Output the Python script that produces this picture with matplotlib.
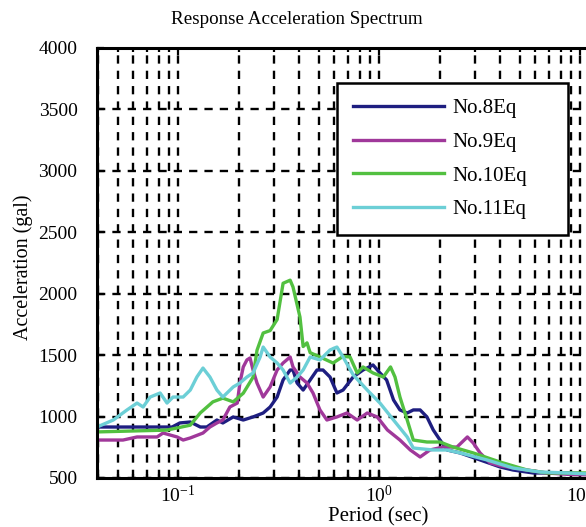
import matplotlib
matplotlib.use("Agg")
import matplotlib.pyplot as plt
from matplotlib.ticker import LogLocator, NullFormatter, MultipleLocator

plt.rcParams['font.family'] = ['Liberation Serif', 'DejaVu Serif']
plt.rcParams['mathtext.fontset'] = 'stix'

# Values: period (sec) and acceleration (gal)
t8 = [0.0395, 0.0449, 0.0934, 0.102, 0.115, 0.129, 0.139, 0.156, 0.167, 0.188, 0.211,
      0.236, 0.265, 0.287, 0.311, 0.333, 0.361, 0.373, 0.391, 0.419, 0.454, 0.491, 0.526,
      0.570, 0.617, 0.662, 0.743, 0.832, 0.933, 1.01, 1.09, 1.18, 1.27, 1.38, 1.48, 1.60,
      1.73, 1.86, 2.01, 2.18, 2.53, 3.18, 4.0, 4.64, 5.84, 8.61, 11.0]
a8 = [915, 915, 915, 948, 956, 915, 915, 972, 948, 997, 972,
      997, 1029, 1078, 1159, 1298, 1379, 1379, 1273, 1216, 1298, 1379, 1379,
      1322, 1192, 1216, 1322, 1379, 1420, 1355, 1298, 1135, 1054, 1029, 1054, 1054,
      997, 891, 809, 728, 704, 647, 590, 565, 541, 541, 533]

t9 = [0.0395, 0.0532, 0.0625, 0.0786, 0.0842, 0.0989, 0.106, 0.115, 0.133, 0.144, 0.156,
      0.167, 0.181, 0.197, 0.203, 0.211, 0.220, 0.228, 0.236, 0.247, 0.265, 0.287, 0.311,
      0.333, 0.361, 0.373, 0.404, 0.438, 0.469, 0.508, 0.550, 0.617, 0.692, 0.778, 0.873,
      0.979, 1.10, 1.27, 1.43, 1.60, 1.79, 2.08, 2.44, 2.75, 2.94, 3.18, 3.57, 4.0, 5.45,
      6.85, 8.61, 11.0]
a9 = [809, 809, 834, 834, 866, 834, 809, 826, 866, 915, 948,
      972, 1078, 1110, 1273, 1404, 1461, 1477, 1379, 1273, 1159, 1241, 1379,
      1436, 1485, 1404, 1322, 1273, 1192, 1054, 972, 997, 1029, 972, 1029,
      997, 891, 809, 728, 671, 728, 752, 752, 834, 785, 704, 622, 600, 565,
      541, 530, 525]

t10 = [0.0395, 0.088, 0.115, 0.129, 0.149, 0.167, 0.188, 0.211, 0.236, 0.247, 0.265,
       0.287, 0.311, 0.333, 0.361, 0.373, 0.404, 0.419, 0.438, 0.454, 0.508, 0.590,
       0.662, 0.717, 0.778, 0.832, 0.933, 1.05, 1.14, 1.20, 1.27, 1.38, 1.48, 1.73,
       2.01, 2.33, 2.94, 4.0, 5.45, 6.85, 8.61, 11.0]
a10 = [875, 890, 930, 1030, 1120, 1150, 1120, 1190, 1320, 1540, 1680,
       1700, 1790, 2085, 2110, 2055, 1810, 1570, 1600, 1520, 1485, 1436,
       1490, 1485, 1355, 1404, 1355, 1322, 1404, 1322, 1159, 972, 809, 793,
       793, 752, 704, 630, 565, 541, 541, 541]

t11 = [0.0395, 0.0476, 0.0557, 0.0625, 0.0670, 0.0726, 0.0814, 0.0881, 0.0944, 0.106,
       0.115, 0.124, 0.133, 0.144, 0.156, 0.167, 0.188, 0.203, 0.220, 0.236, 0.256,
       0.265, 0.287, 0.311, 0.333, 0.361, 0.391, 0.419, 0.454, 0.508, 0.570, 0.617,
       0.662, 0.743, 0.873, 1.01, 1.18, 1.38, 1.48, 1.86, 2.18, 2.53, 3.44, 4.64, 6.32,
       8.61, 11.0]
a11 = [915, 972, 1054, 1110, 1078, 1159, 1192, 1110, 1159, 1159,
       1216, 1322, 1395, 1322, 1216, 1159, 1241, 1273, 1322, 1355, 1485,
       1566, 1485, 1436, 1379, 1273, 1322, 1379, 1485, 1461, 1542, 1566,
       1485, 1340, 1216, 1110, 972, 834, 744, 728, 728, 704, 647, 581, 549,
       541, 533]

series = [
    (t8, a8, "No.8Eq", "#1e1e80"),
    (t9, a9, "No.9Eq", "#a0389a"),
    (t10, a10, "No.10Eq", "#52c040"),
    (t11, a11, "No.11Eq", "#6ccfd6"),
]

fig = plt.figure(figsize=(5.86, 5.27), dpi=100)
# the right edge of the plot runs past the picture, as in the reference
ax = fig.add_axes([97 / 586, 49 / 527, 499 / 586, 430 / 527])

for t, a, name, col in series:
    ax.plot(t, a, color=col, lw=2.4, label=name)

ax.set_xscale("log")
ax.set_xlim(0.0395, 12)
ax.set_ylim(500, 4000)
ax.yaxis.set_major_locator(MultipleLocator(500))
ax.xaxis.set_major_locator(LogLocator(base=10, numticks=10))
ax.xaxis.set_minor_locator(LogLocator(base=10, subs=range(2, 10), numticks=20))
ax.xaxis.set_minor_formatter(NullFormatter())

ax.grid(True, which="major", color="black", linestyle=(0, (3.5, 3)), lw=1.7)
ax.grid(True, which="minor", axis="x", color="black", linestyle=(0, (3.5, 3)), lw=1.7)

ax.tick_params(which="both", direction="in", top=True, right=True, width=1.6, labelsize=14)
ax.tick_params(which="major", length=5)
ax.tick_params(which="minor", length=3)
ax.tick_params(axis="y", pad=14)
ax.tick_params(axis="x", pad=5)
for s in ax.spines.values():
    s.set_linewidth(2.2)

ax.set_ylabel("Acceleration (gal)", fontsize=14.5)
ax.yaxis.set_label_coords(-0.128, 0.49)
ax.set_xlabel("Period (sec)", fontsize=15)
ax.xaxis.set_label_coords(0.563, -0.069)
fig.text(297 / 586, 1 - 20 / 527, "Response Acceleration Spectrum", fontsize=13.7,
         ha="center", va="center")

leg = ax.legend(loc="upper left", bbox_to_anchor=(337 / 586, (527 - 228) / 527, 231 / 586, 145 / 527),
                bbox_transform=fig.transFigure, borderaxespad=0, fontsize=15, mode="expand",
                handlelength=4.4, labelspacing=0.68, borderpad=0.75, handletextpad=0.4,
                fancybox=False, framealpha=1, edgecolor="black")
leg.get_frame().set_linewidth(1.8)

fig.savefig("out.png", dpi=100)
